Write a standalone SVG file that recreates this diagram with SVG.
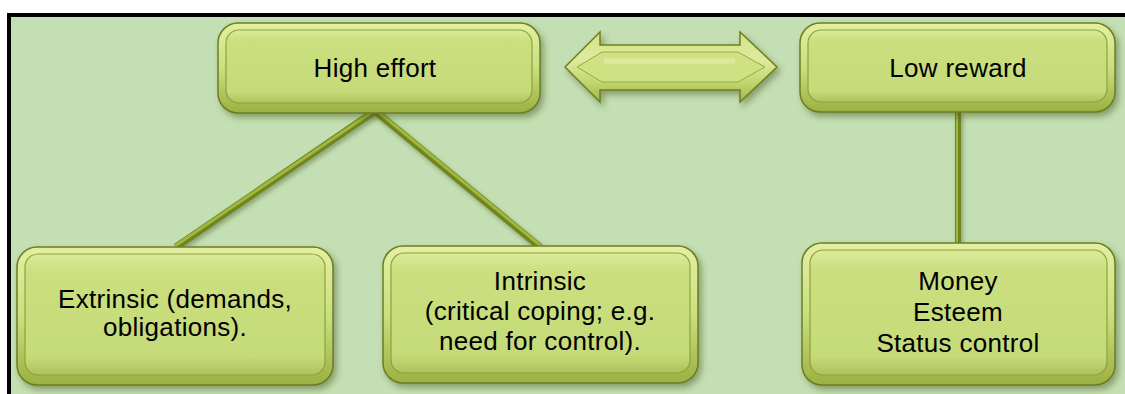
<svg xmlns="http://www.w3.org/2000/svg" width="1125" height="394" viewBox="0 0 1125 394">
<defs>
<linearGradient id="rim" x1="0" y1="0" x2="0" y2="1">
<stop offset="0" stop-color="#e3efa2"/>
<stop offset="0.5" stop-color="#cadf80"/>
<stop offset="1" stop-color="#9cb042"/>
</linearGradient>
<linearGradient id="face" x1="0" y1="0" x2="0" y2="1">
<stop offset="0" stop-color="#dcea9a"/>
<stop offset="0.15" stop-color="#cbdf80"/>
<stop offset="0.85" stop-color="#c5da78"/>
<stop offset="1" stop-color="#aec25a"/>
</linearGradient>
<linearGradient id="arrowg" x1="0" y1="0" x2="0" y2="1">
<stop offset="0" stop-color="#d3e386"/>
<stop offset="0.4" stop-color="#deeb9e"/>
<stop offset="0.7" stop-color="#c3d872"/>
<stop offset="1" stop-color="#a2b74a"/>
</linearGradient>
<filter id="sh" x="-10%" y="-10%" width="125%" height="135%">
<feDropShadow dx="3" dy="4" stdDeviation="3" flood-color="#3d4d12" flood-opacity="0.45"/>
</filter>
<filter id="lsh" x="-10%" y="-10%" width="130%" height="130%">
<feDropShadow dx="2" dy="3" stdDeviation="2" flood-color="#3d4d12" flood-opacity="0.4"/>
</filter>
</defs>
<style>
.outer{fill:url(#rim);stroke:#6c7d22;stroke-width:1.5;filter:url(#sh)}
.inner{fill:url(#face);stroke:#8ea238;stroke-width:1.2}
.lbl{font-family:"Liberation Sans",Arial,sans-serif;font-size:26px;fill:#000;text-anchor:middle;letter-spacing:0.3px}
.con{stroke:#6f8520;stroke-width:7;stroke-linecap:butt;fill:none}
.conhi{stroke:#9fb83e;stroke-width:3;fill:none}
</style>
<rect x="0" y="0" width="1125" height="394" fill="#ffffff"/>
<rect x="9" y="15" width="1116" height="379" fill="#c4dfb3"/>
<rect x="7" y="13" width="1118" height="4" fill="#000"/>
<rect x="7" y="13" width="4" height="381" fill="#000"/>

<g id="connectors" filter="url(#lsh)">
<line class="con" x1="375" y1="111" x2="176" y2="247"/>
<line class="conhi" x1="375" y1="110" x2="175" y2="246"/>
<line class="con" x1="375" y1="111" x2="540" y2="247"/>
<line class="conhi" x1="376" y1="110" x2="541" y2="246"/>
<line class="con" x1="958" y1="111" x2="958" y2="244" style="stroke-width:6"/>
<line class="conhi" x1="957" y1="111" x2="957" y2="244" style="stroke-width:2"/>
</g>

<g id="arrow" filter="url(#sh)">
<polygon points="565,67 600,32 600,45 740,45 740,32 777,67 740,102 740,90 600,90 600,102" fill="url(#arrowg)" stroke="#6c7d22" stroke-width="1.5"/>
<polygon points="577,67 602,52 738,52 765,67 738,82 602,82" fill="#cfe183" stroke="#97ab40" stroke-width="1"/>
<line x1="604" y1="61" x2="735" y2="61" stroke="#e6f0b2" stroke-width="5" opacity="0.6"/>
</g>

<g id="node-high-effort">
<rect class="outer" x="218" y="23" width="322" height="90" rx="20"/>
<rect class="inner" x="226" y="30" width="306" height="73" rx="13"/>
<text class="lbl" x="375" y="77">High effort</text>
</g>

<g id="node-low-reward">
<rect class="outer" x="800" y="23" width="315" height="89" rx="20"/>
<rect class="inner" x="808" y="30" width="299" height="72" rx="13"/>
<text class="lbl" x="958" y="77">Low reward</text>
</g>

<g id="node-extrinsic">
<rect class="outer" x="17" y="247" width="316" height="138" rx="20"/>
<rect class="inner" x="25" y="254" width="300" height="121" rx="13"/>
<text class="lbl" x="175" y="308">Extrinsic (demands,</text>
<text class="lbl" x="175" y="336">obligations).</text>
</g>

<g id="node-intrinsic">
<rect class="outer" x="383" y="246" width="315" height="137" rx="20"/>
<rect class="inner" x="391" y="253" width="299" height="120" rx="13"/>
<text class="lbl" x="540" y="290">Intrinsic</text>
<text class="lbl" x="540" y="320">(critical coping; e.g.</text>
<text class="lbl" x="540" y="350">need for control).</text>
</g>

<g id="node-money">
<rect class="outer" x="802" y="243" width="313" height="142" rx="20"/>
<rect class="inner" x="810" y="250" width="297" height="125" rx="13"/>
<text class="lbl" x="958" y="290">Money</text>
<text class="lbl" x="958" y="321">Esteem</text>
<text class="lbl" x="958" y="352">Status control</text>
</g>
</svg>
